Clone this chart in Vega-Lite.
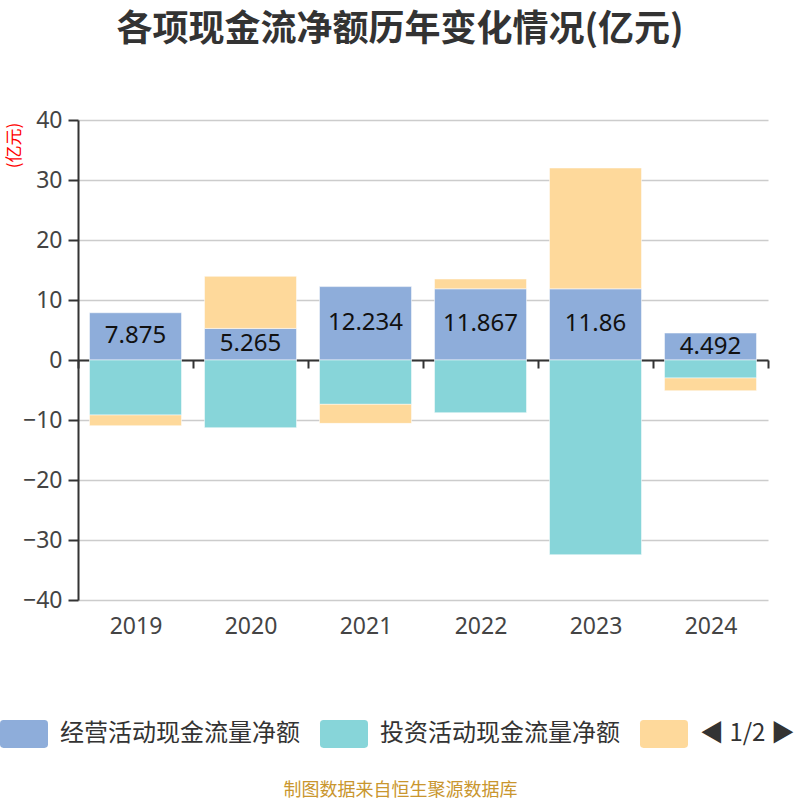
{
  "$schema": "https://vega.github.io/schema/vega-lite/v6.json",
  "autosize": {"type": "none"},
  "width": 690,
  "height": 480,
  "padding": {"left": 78, "top": 120, "right": 32, "bottom": 200},
  "background": "white",
  "config": {
    "font": "Noto Sans, Noto Sans CJK SC",
    "view": {"stroke": null}
  },
  "title": {
    "text": "各项现金流净额历年变化情况(亿元)",
    "font": "Noto Sans CJK SC",
    "fontSize": 36,
    "fontWeight": "bold",
    "color": "#333333",
    "anchor": "middle",
    "frame": "group",
    "dx": -23,
    "offset": 60
  },
  "data": {
    "values": [
      {"year": "2019", "series": "经营活动现金流量净额", "value": 7.875},
      {"year": "2020", "series": "经营活动现金流量净额", "value": 5.265},
      {"year": "2021", "series": "经营活动现金流量净额", "value": 12.234},
      {"year": "2022", "series": "经营活动现金流量净额", "value": 11.867},
      {"year": "2023", "series": "经营活动现金流量净额", "value": 11.86},
      {"year": "2024", "series": "经营活动现金流量净额", "value": 4.492},
      {"year": "2019", "series": "投资活动现金流量净额", "value": -9.17},
      {"year": "2020", "series": "投资活动现金流量净额", "value": -11.28},
      {"year": "2021", "series": "投资活动现金流量净额", "value": -7.39},
      {"year": "2022", "series": "投资活动现金流量净额", "value": -8.78},
      {"year": "2023", "series": "投资活动现金流量净额", "value": -32.45},
      {"year": "2024", "series": "投资活动现金流量净额", "value": -3.0},
      {"year": "2019", "series": "筹资活动现金流量净额", "value": -1.78},
      {"year": "2020", "series": "筹资活动现金流量净额", "value": 8.68},
      {"year": "2021", "series": "筹资活动现金流量净额", "value": -3.17},
      {"year": "2022", "series": "筹资活动现金流量净额", "value": 1.63},
      {"year": "2023", "series": "筹资活动现金流量净额", "value": 20.14},
      {"year": "2024", "series": "筹资活动现金流量净额", "value": -2.11}
    ]
  },
  "layer": [
    {
      "transform": [
        {"calculate": "indexof(['经营活动现金流量净额','投资活动现金流量净额','筹资活动现金流量净额'], datum.series)", "as": "ord"}
      ],
      "mark": {"type": "bar", "width": {"band": 0.8}, "stroke": "white", "strokeWidth": 0.5},
      "encoding": {
        "x": {
          "field": "year", "type": "ordinal",
          "scale": {"paddingInner": 0, "paddingOuter": 0},
          "axis": {
            "title": "制图数据来自恒生聚源数据库",
            "titleFont": "Noto Sans CJK SC",
            "titleFontSize": 18,
            "titleFontWeight": "normal",
            "titleColor": "#C9962E",
            "titleX": 322,
            "titleY": 430,
            "titleBaseline": "middle",
            "titleAnchor": "middle",
            "offset": -240,
            "domainColor": "#333333",
            "domainWidth": 2,
            "ticks": true,
            "tickBand": "extent",
            "tickColor": "#333333",
            "tickWidth": 2,
            "tickSize": 8,
            "labelAngle": 0,
            "labelFontSize": 23,
            "labelColor": "#444444",
            "labelPadding": 247,
            "labelBaseline": "top",
            "grid": false
          }
        },
        "y": {
          "field": "value", "type": "quantitative", "stack": "zero",
          "scale": {"domain": [-40, 40], "nice": false},
          "axis": {
            "title": "(亿元)",
            "titleFont": "Noto Sans CJK SC",
            "titleFontSize": 17,
            "titleFontWeight": "normal",
            "titleColor": "#FF0000",
            "titleAnchor": "end",
            "titleAlign": "center",
            "titleBaseline": "middle",
            "titleX": -64,
            "titleY": 25,
            "values": [-40, -30, -20, -10, 0, 10, 20, 30, 40],
            "domainColor": "#333333",
            "domainWidth": 2,
            "tickColor": "#333333",
            "tickWidth": 2,
            "tickSize": 10,
            "labelFontSize": 23,
            "labelColor": "#444444",
            "labelPadding": 6,
            "gridColor": "#CCCCCC",
            "gridWidth": 1.5
          }
        },
        "color": {
          "field": "series", "type": "nominal",
          "scale": {
            "domain": ["经营活动现金流量净额", "投资活动现金流量净额", "筹资活动现金流量净额"],
            "range": ["#8EADDA", "#87D5D9", "#FED99B"]
          },
          "legend": {
            "orient": "none",
            "direction": "horizontal",
            "legendX": -78,
            "legendY": 590,
            "title": null,
            "padding": 0,
            "symbolType": "M-0.85,-0.58 L0.85,-0.58 Q1,-0.58 1,-0.43 L1,0.43 Q1,0.58 0.85,0.58 L-0.85,0.58 Q-1,0.58 -1,0.43 L-1,-0.43 Q-1,-0.58 -0.85,-0.58 Z",
            "symbolSize": 2304,
            "symbolStrokeWidth": 0,
            "symbolOpacity": 1,
            "labelFont": "Noto Sans CJK SC",
            "labelFontSize": 24,
            "labelColor": "#333333",
            "labelLimit": 400,
            "labelOffset": 12,
            "labelExpr": "datum.label === '筹资活动现金流量净额' ? '◀ 1/2 ▶' : datum.label",
            "columnPadding": 20
          }
        },
        "order": {"field": "ord", "type": "quantitative"}
      }
    },
    {
      "transform": [
        {"filter": "datum.series === '经营活动现金流量净额'"},
        {"calculate": "datum.value / 2", "as": "mid"}
      ],
      "mark": {"type": "text", "fontSize": 24, "color": "#111111", "baseline": "middle", "align": "center"},
      "encoding": {
        "x": {"field": "year", "type": "ordinal", "bandPosition": 0.5},
        "y": {"field": "mid", "type": "quantitative"},
        "text": {"field": "value", "type": "quantitative", "format": "~r"}
      }
    }
  ]
}
